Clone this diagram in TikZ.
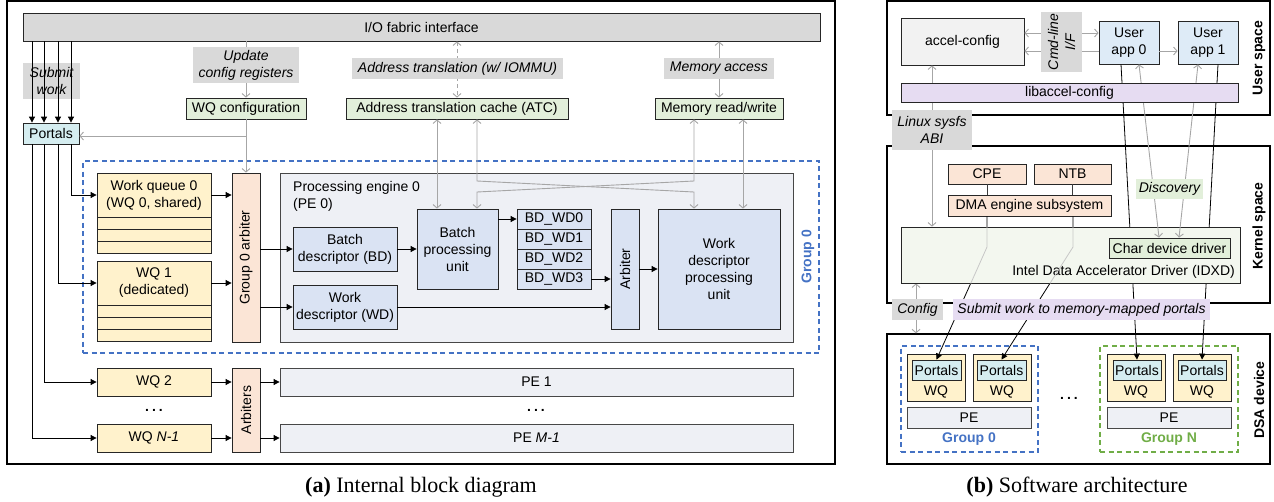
\documentclass[tikz,border=0pt]{standalone}
\usepackage{fontspec}
\setmainfont{Liberation Sans}
\newfontfamily\capfont{Liberation Serif}
\usetikzlibrary{arrows.meta,calc}
\pgfdeclarelayer{top}
\pgfsetlayers{main,top}
\definecolor{iogray}{HTML}{D9D9D9}
\definecolor{lblgray}{HTML}{D9D9D9}
\definecolor{greenb}{HTML}{E2EFDA}
\definecolor{cyanp}{HTML}{D5EDF0}
\definecolor{wqy}{HTML}{FFF2CC}
\definecolor{peach}{HTML}{FBE5D6}
\definecolor{pegray}{HTML}{EEF0F5}
\definecolor{blueb}{HTML}{DAE3F3}
\definecolor{acc}{HTML}{F2F2F2}
\definecolor{appb}{HTML}{DEEBF7}
\definecolor{lav}{HTML}{E6DCF2}
\definecolor{idxdc}{HTML}{F3F7EF}
\definecolor{gblue}{HTML}{4472C4}
\definecolor{ggreen}{HTML}{70AD47}
\definecolor{arrg}{HTML}{A6A6A6}
\definecolor{bordc}{HTML}{262626}
\newcommand{\dfs}{\fontsize{14}{17}\selectfont}
\newcommand{\mybox}[7][]{%
  \pgfmathsetmacro\mbcx{(#3+#5)/2}%
  \pgfmathsetmacro\mbcy{(#4+#6)/2}%
  \pgfmathsetmacro\mbw{#5-#3}%
  \pgfmathsetmacro\mbh{#6-#4}%
  \node[#1, minimum width=\mbw pt, minimum height=\mbh pt] (#2) at (\mbcx,\mbcy) {#7};}
\begin{document}
\begin{tikzpicture}[x=1pt,y=-1pt,font=\dfs,
  >={Straight Barb[length=3.5pt,width=8pt]},
  box/.style={draw=bordc,line width=0.8pt,inner sep=0pt,align=center},
  lbl/.style={fill=lblgray,inner sep=0pt,align=center,font=\dfs\itshape},
  blk/.style={draw=black,line width=0.8pt,-{Triangle[length=6pt,width=6pt]}},
  gry/.style={draw=arrg,line width=0.9pt},
  outer/.style={draw=black,line width=1.3pt,inner sep=0pt},
  rtxt/.style={rotate=90,inner sep=0pt},
  gdash/.style={dash pattern=on 5pt off 3.5pt,line width=1.1pt,inner sep=0pt},
  rows/.style={draw=bordc,line width=0.8pt,fill=wqy},
]
\useasboundingbox (0,0) rectangle (1274,501);

%================ (a) Internal block diagram ================
\mybox[outer]{fa}{7}{1}{835}{464}{}
\mybox[box,fill=iogray]{iof}{23}{13}{820}{41}{I/O fabric interface}
\mybox[lbl]{lsub}{23}{63}{80}{99}{Submit\\work}
\mybox[box,fill=cyanp]{portals}{23}{123}{79}{144}{Portals}
\foreach \x in {32,44,58,71} \draw[blk] (iof.south -| \x,0) -- (portals.north -| \x,0);

\mybox[box,fill=greenb]{wqc}{186}{98}{306}{119}{WQ configuration}
\mybox[box,fill=greenb]{atc}{346}{98}{568}{119}{Address translation cache (ATC)}
\mybox[box,fill=greenb]{mem}{655}{98}{783}{119}{Memory read/write}

\mybox[gdash,draw=gblue]{g0}{83}{161}{819}{353}{}
\node[rtxt,font=\dfs\bfseries,text=gblue] (g0t) at (808,257) {Group 0};

\mybox[box,fill=pegray,draw=bordc!85]{pe0}{280}{173}{793}{342}{}
\node[anchor=north west,inner sep=0pt,align=left] (pe0t) at (293,181) {Processing engine 0\\(PE 0)};

\mybox[box,fill=wqy]{wq0}{97}{173}{211}{217}{Work queue 0\\(WQ 0, shared)}
\draw[rows] (97,217) rectangle (211,229) (97,229) rectangle (211,241) (97,241) rectangle (211,253);
\mybox[box,fill=wqy]{wq1}{97}{261}{211}{305}{WQ 1\\(dedicated)}
\draw[rows] (97,305) rectangle (211,317) (97,317) rectangle (211,329) (97,329) rectangle (211,341);

\mybox[box,fill=peach]{garb}{232}{173}{260}{342}{}
\node[rtxt] (garbt) at (garb) {Group 0 arbiter};

\mybox[box,fill=blueb]{bd}{293}{227}{397}{271}{Batch\\descriptor (BD)}
\mybox[box,fill=blueb]{wd}{293}{285}{397}{329}{Work\\descriptor (WD)}
\mybox[box,fill=blueb]{bpu}{417}{209}{498}{289}{Batch\\processing\\unit}
\mybox[box,fill=blueb]{bdw0}{517}{209}{591}{229}{BD\_WD0}
\mybox[box,fill=blueb]{bdw1}{517}{229}{591}{249}{BD\_WD1}
\mybox[box,fill=blueb]{bdw2}{517}{249}{591}{269}{BD\_WD2}
\mybox[box,fill=blueb]{bdw3}{517}{269}{591}{289}{BD\_WD3}
\mybox[box,fill=blueb]{arb}{611}{209}{639}{329}{}
\node[rtxt] (arbt) at (arb) {Arbiter};
\mybox[box,fill=blueb]{wdpu}{658}{209}{780}{329}{Work\\descriptor\\processing\\unit}

\mybox[box,fill=wqy]{wq2}{97}{368}{211}{396}{WQ 2}
\mybox[box,fill=wqy]{wqn}{97}{424}{211}{452}{WQ \textit{N-1}}
\node (dotsa) at (154,410) {\textbf{.\hspace{3pt}.\hspace{3pt}.}};
\mybox[box,fill=peach]{arbs}{232}{368}{260}{452}{}
\node[rtxt] (arbst) at (arbs) {Arbiters};
\mybox[box,fill=pegray,draw=bordc!85]{pe1}{280}{368}{793}{396}{PE 1}
\mybox[box,fill=pegray,draw=bordc!85]{pem}{280}{424}{793}{452}{PE \textit{M-1}}
\node (dotsp) at (536,410) {\textbf{.\hspace{3pt}.\hspace{3pt}.}};

% black connectors
\draw[blk] (portals.south -| 71,0) |- (wq0.west);
\draw[blk] (portals.south -| 58,0) |- (wq1.west);
\draw[blk] (portals.south -| 44,0) |- (wq2.west);
\draw[blk] (portals.south -| 32,0) |- (wqn.west);
\draw[blk] (wq0.east) -- (wq0.east -| garb.west);
\draw[blk] (wq1.east) -- (wq1.east -| garb.west);
\draw[blk] (garb.east |- bd.west) -- (bd.west);
\draw[blk] (garb.east |- wd.west) -- (wd.west);
\draw[blk] (bd.east) -- (bpu.west |- bd.east);
\draw[blk] (bpu.east |- bdw0.west) -- (bdw0.west);
\draw[blk] (bdw3.east) -- (arb.west |- bdw3.east);
\draw[blk] (wd.east) -- (arb.west |- wd.east);
\draw[blk] (arb.east |- wdpu.west) -- (wdpu.west);
\draw[blk] (wq2.east) -- (arbs.west |- wq2.east);
\draw[blk] (wqn.east) -- (arbs.west |- wqn.east);
\draw[blk] (arbs.east |- pe1.west) -- (pe1.west);
\draw[blk] (arbs.east |- pem.west) -- (pem.west);

% gray connectors
\draw[gry,->] (iof.south -| wqc.north) -- (wqc.north);
\draw[gry,->] (wqc.south) -- (garb.north -| wqc.south);
\draw[gry,->] (wqc.south |- 0,136) -- (portals.east |- 0,136);
\draw[gry,<->,dash pattern=on 4pt off 3pt] (iof.south -| 457,0) -- (atc.north -| 457,0);
\draw[gry,<->] (iof.south -| 719,0) -- (mem.north -| 719,0);
\draw[gry,<->] (atc.south -| 437,0) -- (bpu.north -| 437,0);
\draw[gry,<->] (atc.south -| 477,0) -- (477,181) -- (694,192) -- (wdpu.north -| 694,0);
\draw[gry,<->] (mem.south -| 694,0) -- (694,181) -- (477,192) -- (bpu.north -| 477,0);
\draw[gry,<->] (mem.south -| 743,0) -- (wdpu.north -| 743,0);

\mybox[lbl]{lupd}{193}{47}{299}{83}{Update\\config registers}
\mybox[lbl]{ladr}{352}{58}{563}{79}{Address translation (w/ IOMMU)}
\mybox[lbl]{lmem}{664}{58}{774}{79}{Memory access}

\node[font=\capfont\fontsize{22}{26}\selectfont] (capa) at (421,487) {\textbf{(a)} Internal block diagram};

%================ (b) Software architecture ================
\mybox[outer]{fu}{887}{1}{1270}{115}{}
\mybox[outer]{fk}{887}{146}{1270}{303}{}
\mybox[outer]{fd}{887}{334}{1270}{464}{}
\node[rtxt,font=\dfs\bfseries] (tus) at (1259,58) {User space};
\node[rtxt,font=\dfs\bfseries] (tks) at (1259,226) {Kernel space};
\node[rtxt,font=\dfs\bfseries] (tds) at (1259,400) {DSA device};

\begin{pgfonlayer}{top}
\mybox[box,fill=idxdc]{idxd}{901}{227}{1240}{283}{}
\node[anchor=east,inner sep=0pt] (idxdt) at (1235,272) {Intel Data Accelerator Driver (IDXD)};
\mybox[box,fill=greenb]{cdd}{1109}{238}{1230}{258}{Char device driver}
\end{pgfonlayer}

\mybox[box,fill=acc]{accel}{901}{18}{1024}{65}{accel-config}
\mybox[box,fill=appb]{app0}{1099}{21}{1159}{64}{User\\app 0}
\mybox[box,fill=appb]{app1}{1178}{21}{1238}{64}{User\\app 1}
\mybox[box,fill=peach]{cpe}{948}{164}{1026}{184}{CPE}
\mybox[box,fill=peach]{ntb}{1034}{164}{1111}{184}{NTB}
\mybox[box,fill=peach]{dma}{948}{195}{1111}{216}{DMA engine subsystem}

\mybox[gdash,draw=gblue]{gr0}{901}{346}{1038}{452}{}
\mybox[gdash,draw=ggreen]{grn}{1100}{346}{1238}{452}{}
\mybox[box,fill=wqy]{w1}{907}{354}{965}{401}{}
\mybox[box,fill=wqy]{w2}{973}{354}{1031}{401}{}
\mybox[box,fill=wqy]{w3}{1107}{354}{1165}{401}{}
\mybox[box,fill=wqy]{w4}{1173}{354}{1231}{401}{}
\node (w1t) at (w1.center |- 0,392) {WQ};
\node (w2t) at (w2.center |- 0,392) {WQ};
\node (w3t) at (w3.center |- 0,392) {WQ};
\node (w4t) at (w4.center |- 0,392) {WQ};
\mybox[box,fill=cyanp]{p1}{912}{360}{961}{380}{Portals}
\mybox[box,fill=cyanp]{p2}{977}{360}{1026}{380}{Portals}
\mybox[box,fill=cyanp]{p3}{1113}{360}{1161}{380}{Portals}
\mybox[box,fill=cyanp]{p4}{1178}{360}{1226}{380}{Portals}
\mybox[box,fill=pegray,draw=bordc!85]{peg0}{907}{407}{1031}{428}{PE}
\mybox[box,fill=pegray,draw=bordc!85]{pegn}{1107}{407}{1231}{428}{PE}
\node[font=\dfs\bfseries,text=gblue] (g0l) at (969,439) {Group 0};
\node[font=\dfs\bfseries,text=ggreen] (gnl) at (1169,439) {Group N};
\node (dotsb) at (1069,398) {\textbf{.\hspace{3pt}.\hspace{3pt}.}};

\coordinate (k1) at (987,247);
\coordinate (k2) at (1073,247);
\draw[blk] (dma.south -| k1) -- (k1) -- (p1.north);
\draw[blk] (dma.south -| k2) -- (k2) -- (p2.north);
\draw[blk] (app0.south -| 1121,0) -- (p3.north);
\draw[blk] (app1.south -| 1218,0) -- (p4.north);
\draw[draw=bordc!90,line width=0.8pt] (cpe.south) -- (dma.north -| cpe.south);
\draw[draw=bordc!90,line width=0.8pt] (ntb.south) -- (dma.north -| ntb.south);
\draw[gry,<->] (accel.east |- 0,33) -- (app0.west |- 0,33);
\draw[gry,->] (app0.west |- 0,51) -- (accel.east |- 0,51);
\draw[gry,->] (app0.east |- 0,51) -- (app1.west |- 0,51);
\draw[gry,<->] (accel.south -| 932,0) -- (idxd.north -| 932,0);
\draw[gry,<->] (idxd.south -| 916,0) -- (fd.north -| 916,0);

\begin{pgfonlayer}{top}
\draw[draw=black!22,line width=0.8pt] (idxd.north -| k1) -- (k1) -- (intersection cs: first line={(k1)--(p1.north)}, second line={(idxd.south west)--(idxd.south east)});
\draw[draw=black!22,line width=0.8pt] (idxd.north -| k2) -- (k2) -- (intersection cs: first line={(k2)--(p2.north)}, second line={(idxd.south west)--(idxd.south east)});
\draw[gry,<->] (app0.south -| 1139,0) -- (cdd.north -| 1159,0);
\draw[gry,<->] (app1.south -| 1198,0) -- (cdd.north -| 1179,0);
\mybox[box,fill=lav]{lib}{901}{83}{1238}{102}{libaccel-config}
\node[lbl,rotate=90,minimum width=60pt,minimum height=41pt] (lcmd) at (1061.5,42) {Cmd-line\\I/F};
\mybox[lbl]{lsys}{892}{110}{972}{150}{Linux sysfs\\ABI}
\mybox[lbl,fill=greenb]{ldisc}{1136}{179}{1203}{199}{Discovery}
\mybox[lbl]{lcfg}{892}{299}{943}{320}{Config}
\mybox[lbl,fill=lav]{lsw}{953}{299}{1210}{320}{Submit work to memory-mapped portals}
\end{pgfonlayer}

\node[font=\capfont\fontsize{22}{26}\selectfont] (capb) at (1077,487) {\textbf{(b)} Software architecture};
\end{tikzpicture}
\end{document}
